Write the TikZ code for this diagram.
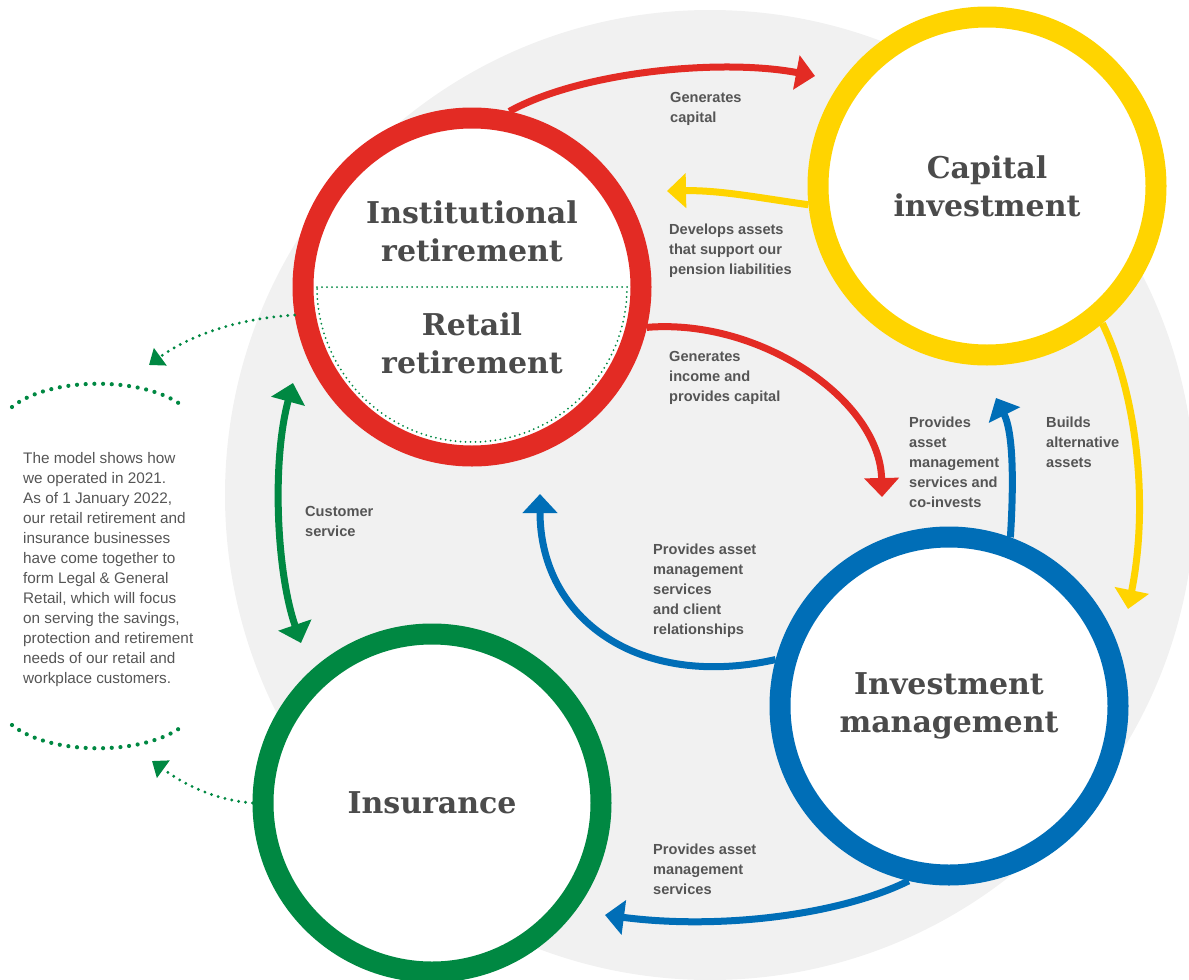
\documentclass[tikz,border=0pt]{standalone}
\usepackage{fontspec}
\setmainfont{Liberation Sans}
\newfontfamily\titlefont{DejaVu Serif}
\usetikzlibrary{arrows.meta}
\definecolor{lgred}{HTML}{E32B24}
\definecolor{lgyellow}{HTML}{FFD400}
\definecolor{lgblue}{HTML}{006EB7}
\definecolor{lggreen}{HTML}{008842}
\definecolor{lggrey}{HTML}{F1F1F1}
\definecolor{lgtext}{HTML}{4B4B4B}
\definecolor{lglabel}{HTML}{555555}
\begin{document}
\begin{tikzpicture}[x=1pt,y=-1pt,
    title/.style={text=lgtext,align=center,font=\titlefont\bfseries\fontsize{30}{38}\selectfont},
    ring/.style={circle,draw=#1,line width=21pt,fill=white,minimum size=338pt,inner sep=0pt,title},
    lbl/.style={anchor=north west,inner sep=0pt,align=left,text=lglabel,font=\bfseries\fontsize{14.6}{20}\selectfont},
    flow/.style={draw=#1,line width=7pt,-{Triangle[width=34pt,length=19pt]}},
    twoway/.style={draw=#1,line width=7pt,{Triangle[width=34pt,length=19pt]}-{Triangle[width=34pt,length=19pt]}},
    dotflow/.style={draw=lggreen,line width=3.2pt,line cap=round,dash pattern=on 0pt off 7pt,-{Triangle[width=21pt,length=14pt]}},
    dotarc/.style={draw=lggreen,line width=4.2pt,line cap=round,dash pattern=on 0pt off 8.7pt},
    halfline/.style={draw=lggreen,line width=2pt,line cap=round,dash pattern=on 0pt off 5pt}]
    \useasboundingbox (0,0) rectangle (1189,980);
    \clip (0,0) rectangle (1189,980);
    \fill[lggrey] (710,495) circle[radius=485];

    % the four businesses
    \node[ring=lgred]    (retire)  at (472,287) {};
    \node[ring=lgyellow] (capital) at (987,186) {Capital\\investment};
    \node[ring=lgblue]   (invest)  at (949,706) {Investment\\management};
    \node[ring=lggreen]  (insure)  at (432,803) {Insurance};
    \node[title] (inst)   at (472,231) {Institutional\\retirement};
    \node[title] (retail) at (472,343) {Retail\\retirement};
    \draw[halfline] (retire.center) ++(-155,0) -- ++(310,0) arc[start angle=0,end angle=180,radius=155];

    % arrow tips
    \coordinate (capTip)    at (815,76);
    \coordinate (devTip)    at (667,191);
    \coordinate (incTip)    at (882,497);
    \coordinate (coTip)     at (996,398);
    \coordinate (altTip)    at (1128,609);
    \coordinate (clientTip) at (540,494);
    \coordinate (insTip)    at (605,915);
    \coordinate (csTop)     at (293,383);
    \coordinate (csBot)     at (301,643);
    \coordinate (outTop)    at (149,365);
    \coordinate (outBot)    at (152,761);

    \draw[flow=lgred]    (retire.78)   .. controls (580,72) and (720,58) .. (capTip);
    \draw[flow=lgyellow] (capital.186) .. controls (760,198) and (720,190) .. (devTip);
    \draw[flow=lgred]    (retire.-13)  .. controls (760,318) and (880,400) .. (incTip);
    \draw[flow=lgblue]   (invest.70)   .. controls (1014,480) and (1013,432) .. (coTip);
    \draw[flow=lgyellow] (capital.-50) .. controls (1135,390) and (1150,500) .. (altTip);
    \draw[flow=lgblue]   (invest.165)  .. controls (640,690) and (540,620) .. (clientTip);
    \draw[flow=lgblue]   (invest.257)  .. controls (840,915) and (720,930) .. (insTip);
    \draw[twoway=lggreen] (csTop) .. controls (272,460) and (276,570) .. (csBot);
    \draw[dotflow] (retire.189) .. controls (240,318) and (190,335) .. (outTop);
    \draw[dotflow] (insure.180) .. controls (215,800) and (185,785) .. (outBot);
    \draw[dotarc] (12,407) .. controls (50,376) and (146,376) .. (184,407);
    \draw[dotarc] (12,725) .. controls (50,756) and (146,756) .. (184,725);

    % labels
    \node[lbl] (gencap)  at (670,92)   {Generates\\capital};
    \node[lbl] (develop) at (669,224)  {Develops assets\\that support our\\pension liabilities};
    \node[lbl] (genInc)  at (669,351)  {Generates\\income and\\provides capital};
    \node[lbl] (coinv)   at (909,417)  {Provides\\asset\\management\\services and\\co-invests};
    \node[lbl] (builds)  at (1046,417) {Builds\\alternative\\assets};
    \node[lbl] (custsv)  at (305,506)  {Customer\\service};
    \node[lbl] (client)  at (653,544)  {Provides asset\\management\\services\\and client\\relationships};
    \node[lbl] (amserv)  at (653,844)  {Provides asset\\management\\services};
    \node[anchor=north west,inner sep=0pt,align=left,text=lglabel,font=\fontsize{15.3}{20}\selectfont] (note) at (23,452)
        {The model shows how\\we operated in 2021.\\As of 1 January 2022,\\our retail retirement and\\insurance businesses\\have come together to\\form Legal \& General\\Retail, which will focus\\on serving the savings,\\protection and retirement\\needs of our retail and\\workplace customers.};
\end{tikzpicture}
\end{document}
